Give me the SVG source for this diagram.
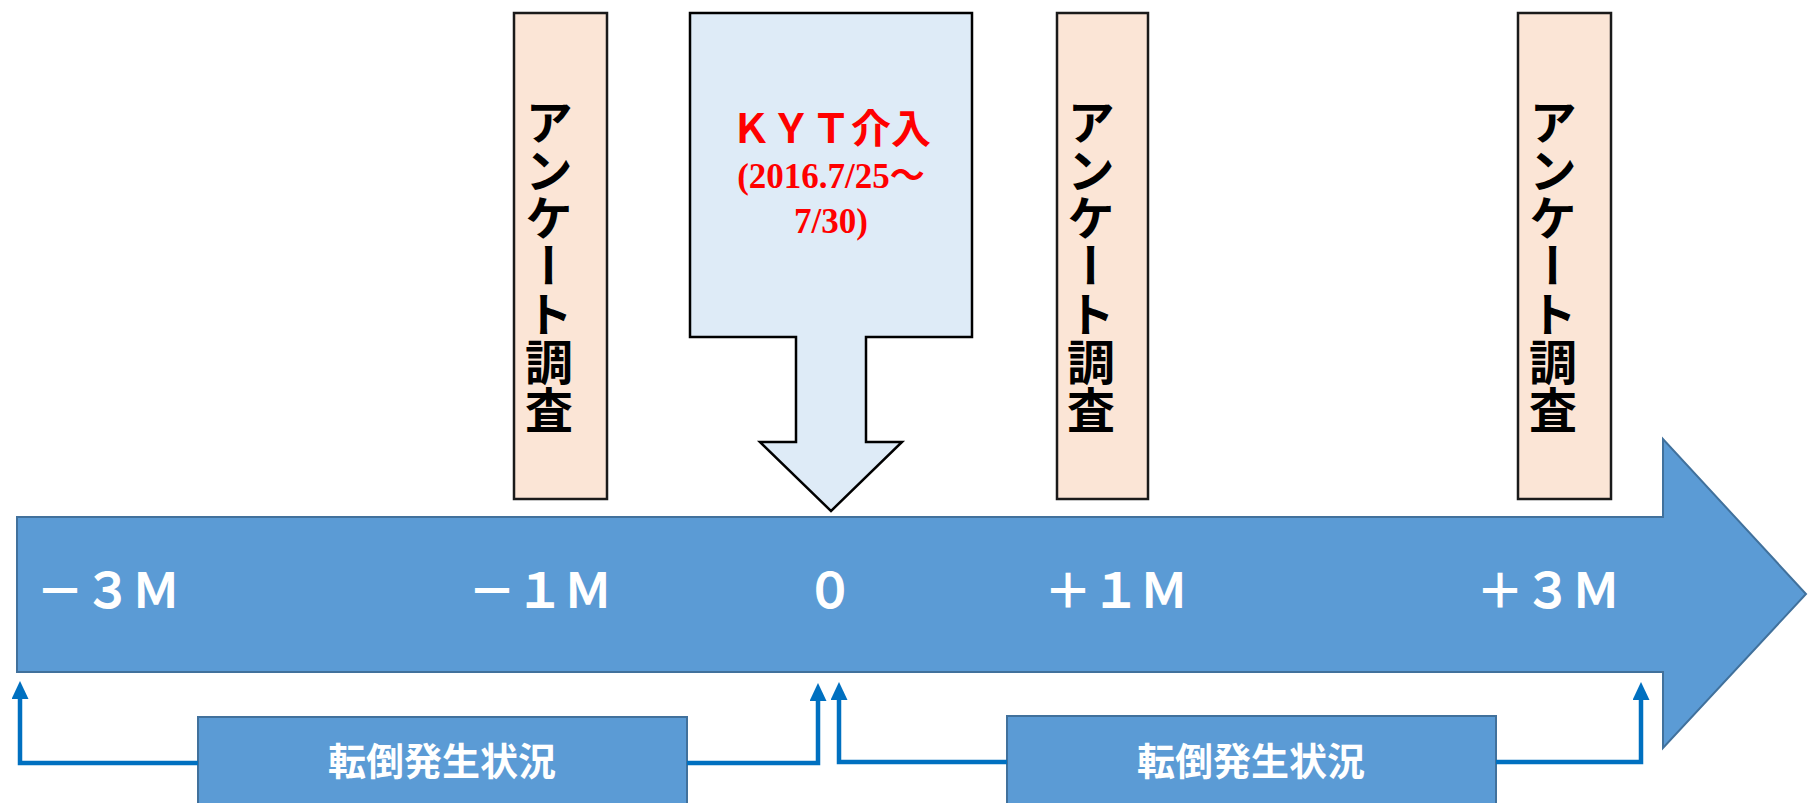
<svg xmlns="http://www.w3.org/2000/svg" width="1808" height="803" viewBox="0 0 1808 803">
<style>
.survey{fill:#FBE5D6;stroke:#1a1a1a;stroke-width:2.5}
.vtext{font-family:"Noto Sans CJK JP","Noto Sans CJK SC",sans-serif;font-weight:700;font-size:48px;fill:#000;writing-mode:vertical-rl}
.tick{font-family:"Noto Sans CJK JP","Noto Sans CJK SC",sans-serif;font-weight:700;font-size:48px;fill:#fff;text-anchor:middle}
.box{fill:#5B9BD5;stroke:#41719C;stroke-width:2}
.btext{font-family:"Noto Sans CJK JP","Noto Sans CJK SC",sans-serif;font-weight:700;font-size:38px;fill:#fff;text-anchor:middle}
.kyt{font-family:"Noto Sans CJK JP","Noto Sans CJK SC",sans-serif;font-weight:700;font-size:40px;fill:#FF0000;text-anchor:middle}
.date{font-family:"Liberation Serif","Noto Sans CJK JP",serif;font-weight:700;font-size:35px;fill:#FF0000;text-anchor:middle}
.conn{fill:none;stroke:#0070C0;stroke-width:4.5;stroke-linejoin:miter;marker-end:url(#ah)}
</style>
<defs>
<marker id="ah" markerUnits="userSpaceOnUse" viewBox="0 0 18 17" markerWidth="18" markerHeight="17" refX="0" refY="8.5" orient="auto">
<path d="M0,0 L18,8.5 L0,17 z" fill="#0070C0"/>
</marker>
</defs>
<rect width="1808" height="803" fill="#fff"/>
<g id="timeline">
<polygon points="17,517 1663,517 1663,439 1806,594 1663,748 1663,672 17,672" fill="#5B9BD5" stroke="#41719C" stroke-width="2"/>
<text class="tick" x="108" y="608">－３Ｍ</text>
<text class="tick" x="540" y="608">－１Ｍ</text>
<text class="tick" x="830" y="608">０</text>
<text class="tick" x="1116" y="608">＋１Ｍ</text>
<text class="tick" x="1548" y="608">＋３Ｍ</text>
</g>
<g id="survey1">
<rect class="survey" x="514" y="13" width="93" height="486"/>
<text class="vtext" x="549" y="98">アンケート調査</text>
</g>
<g id="kyt">
<polygon points="690,13 972,13 972,337 866,337 866,442 902,442 831,511 760,442 796,442 796,337 690,337" fill="#DEEBF7" stroke="#000" stroke-width="2.5"/>
<text class="kyt" x="831" y="143">ＫＹＴ介入</text>
<text class="date" x="831" y="188">(2016.7/25～</text>
<text class="date" x="831" y="233">7/30)</text>
</g>
<g id="survey2">
<rect class="survey" x="1057" y="13" width="91" height="486"/>
<text class="vtext" x="1091" y="98">アンケート調査</text>
</g>
<g id="survey3">
<rect class="survey" x="1518" y="13" width="93" height="486"/>
<text class="vtext" x="1553" y="98">アンケート調査</text>
</g>
<g id="falls1">
<rect class="box" x="198" y="717" width="489" height="140"/>
<text class="btext" x="442" y="775">転倒発生状況</text>
</g>
<g id="falls2">
<rect class="box" x="1007" y="716" width="489" height="140"/>
<text class="btext" x="1251" y="775">転倒発生状況</text>
</g>
<g id="connectors">
<path class="conn" d="M198,763 H20 V699"/>
<path class="conn" d="M687,763 H818 V701"/>
<path class="conn" d="M1007,762 H839 V700"/>
<path class="conn" d="M1496,762 H1641 V700"/>
</g>
</svg>
